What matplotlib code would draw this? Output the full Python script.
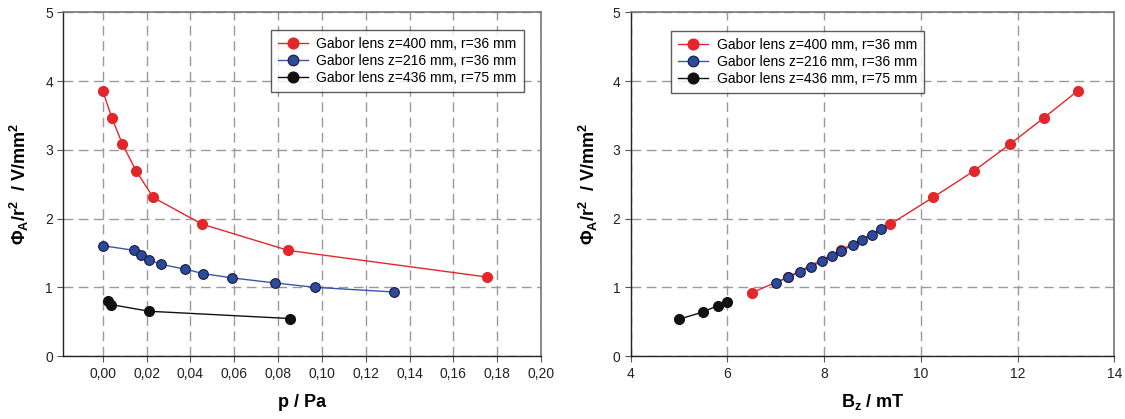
import matplotlib
matplotlib.use("Agg")
import matplotlib.pyplot as plt
from matplotlib.ticker import FuncFormatter, MultipleLocator

plt.rcParams['font.family'] = ['Liberation Sans', 'DejaVu Sans']
plt.rcParams['mathtext.fontset'] = 'custom'
plt.rcParams['mathtext.rm'] = 'Liberation Sans'
plt.rcParams['mathtext.it'] = 'Liberation Sans:italic'
plt.rcParams['mathtext.bf'] = 'Liberation Sans:bold'
plt.rcParams['mathtext.fallback'] = 'cm'

# ---- data: left panel (pressure) ----
p_red = [0.000, 0.0041, 0.0090, 0.0152, 0.0230, 0.0453, 0.0846, 0.1752]
phi_red_p = [3.856, 3.469, 3.081, 2.695, 2.308, 1.920, 1.538, 1.151]
p_blue = [0.000, 0.0144, 0.0175, 0.0211, 0.0265, 0.0374, 0.0459, 0.0592, 0.0787, 0.0968, 0.1329]
phi_blue_p = [1.606, 1.538, 1.470, 1.403, 1.335, 1.267, 1.200, 1.137, 1.064, 1.001, 0.933]
p_black = [0.0026, 0.0038, 0.0211, 0.0854]
phi_black_p = [0.798, 0.750, 0.653, 0.547]

# ---- data: right panel (magnetic field) ----
b_red = [6.50, 7.25, 8.34, 9.37, 10.25, 11.09, 11.84, 12.55, 13.24]
phi_red_b = [0.919, 1.151, 1.538, 1.920, 2.308, 2.690, 3.081, 3.469, 3.856]
b_blue = [7.00, 7.26, 7.50, 7.73, 7.95, 8.17, 8.34, 8.60, 8.79, 8.99, 9.18]
phi_blue_b = [1.064, 1.147, 1.224, 1.300, 1.379, 1.456, 1.533, 1.611, 1.688, 1.765, 1.843]
b_black = [5.00, 5.50, 5.80, 6.00]
phi_black_b = [0.537, 0.643, 0.735, 0.783]

labels = ["Gabor lens z=400 mm, r=36 mm",
          "Gabor lens z=216 mm, r=36 mm",
          "Gabor lens z=436 mm, r=75 mm"]

RED = "#e3262a"
BLUE_L = "#3a56a8"
BLUE_M = "#2c4a9c"
BLACK = "#111111"

fig = plt.figure(figsize=(11.25, 4.19), dpi=100)
axL = fig.add_axes([0.0563, 0.150, 0.4246, 0.8206])
axR = fig.add_axes([0.5606, 0.150, 0.4299, 0.8206])

def style(ax, pad):
    ax.grid(True, color="#9a9a9a", linestyle=(0, (7, 4)), linewidth=1.0)
    ax.set_axisbelow(True)
    for s in ['top', 'right']:
        ax.spines[s].set_color("#777777")
        ax.spines[s].set_linewidth(1.2)
    for s in ['left', 'bottom']:
        ax.spines[s].set_color("#222222")
        ax.spines[s].set_linewidth(1.0)
    ax.tick_params(direction='out', length=4, width=0.8, color="#555555",
                   labelsize=10, labelcolor="#222222")
    ax.set_ylim(0, 5)
    ax.yaxis.set_major_locator(MultipleLocator(1))
    ax.set_ylabel(r"$\mathbf{\Phi_A/r^2}$  / V/mm$^\mathbf{2}$", fontsize=13,
                  fontweight='bold', labelpad=pad)

def plot_series(ax, xr, yr, xb, yb, xk, yk):
    ax.plot(xr, yr, '-o', color=RED, lw=1.0, ms=7, mec=RED, mfc=RED, label=labels[0], zorder=3)
    ax.plot(xb, yb, '-o', color=BLUE_L, lw=1.0, ms=7, mec="#1a1a40", mew=0.8, mfc=BLUE_M,
            label=labels[1], zorder=4)
    ax.plot(xk, yk, '-o', color=BLACK, lw=1.0, ms=7, mec=BLACK, mfc=BLACK, label=labels[2], zorder=5)

plot_series(axL, p_red, phi_red_p, p_blue, phi_blue_p, p_black, phi_black_p)
plot_series(axR, b_red, phi_red_b, b_blue, phi_blue_b, b_black, phi_black_b)

style(axL, 10)
style(axR, 9)

axL.set_xlim(-0.018, 0.20)
axL.set_xticks([i * 0.02 for i in range(11)])
axL.xaxis.set_major_formatter(FuncFormatter(lambda v, pos: f"{v:.2f}".replace('.', ',')))
axL.set_xlabel("p / Pa", fontsize=13, fontweight='bold', labelpad=10)

axR.set_xlim(4, 14)
axR.xaxis.set_major_locator(MultipleLocator(2))
axR.set_xlabel(r"B$_\mathbf{z}$ / mT", fontsize=13, fontweight='bold', labelpad=8)

legkw = dict(fontsize=10, frameon=True, fancybox=False, edgecolor="#333333",
             handlelength=2.2, handletextpad=0.6, borderpad=0.5, labelspacing=0.22,
             borderaxespad=0, markerscale=1.1)
legL = axL.legend(loc='upper left', bbox_to_anchor=(0.434, 0.949), **legkw)
legR = axR.legend(loc='upper left', bbox_to_anchor=(0.083, 0.946), **legkw)
for lg in (legL, legR):
    lg.get_frame().set_linewidth(1.0)

fig.savefig("out.png", dpi=100)
